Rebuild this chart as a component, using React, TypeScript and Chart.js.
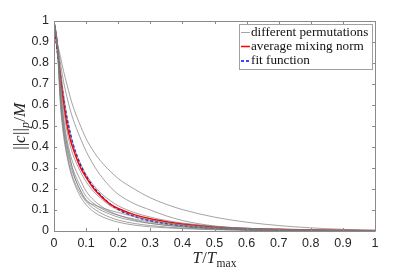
import React, { useEffect, useRef } from "react";
import { Chart, registerables } from "chart.js";

Chart.register(...registerables);

// Sample positions T/Tmax
const T_GRID = [0, 0.01, 0.02, 0.03, 0.04, 0.05, 0.06, 0.08, 0.1, 0.125, 0.15, 0.175, 0.2, 0.25, 0.3, 0.35, 0.4, 0.5, 0.6, 0.7, 0.8, 0.9, 1.0];

// Different permutations (gray)
const PERM_1 = [1, 0.9, 0.83, 0.76, 0.7, 0.64, 0.59, 0.51, 0.44, 0.375, 0.325, 0.285, 0.25, 0.2, 0.158, 0.127, 0.102, 0.066, 0.042, 0.026, 0.015, 0.008, 0.003];
const PERM_2 = [1, 0.9, 0.8, 0.71, 0.64, 0.58, 0.53, 0.45, 0.38, 0.31, 0.255, 0.21, 0.175, 0.13, 0.1, 0.072, 0.05, 0.024, 0.013, 0.008, 0.005, 0.003, 0.002];
const PERM_3 = [1, 0.9, 0.77, 0.65, 0.55, 0.47, 0.41, 0.33, 0.27, 0.215, 0.175, 0.145, 0.12, 0.088, 0.066, 0.05, 0.038, 0.022, 0.013, 0.008, 0.005, 0.003, 0.002];
const PERM_4 = [1, 0.88, 0.72, 0.58, 0.48, 0.41, 0.36, 0.29, 0.235, 0.185, 0.15, 0.12, 0.1, 0.072, 0.052, 0.04, 0.03, 0.017, 0.01, 0.006, 0.004, 0.002, 0.001];
const PERM_5 = [1, 0.9, 0.66, 0.5, 0.41, 0.34, 0.29, 0.22, 0.165, 0.13, 0.105, 0.088, 0.075, 0.057, 0.043, 0.033, 0.025, 0.014, 0.008, 0.005, 0.003, 0.002, 0.001];
const PERM_6 = [1, 0.9, 0.64, 0.48, 0.39, 0.32, 0.27, 0.2, 0.15, 0.118, 0.096, 0.08, 0.066, 0.048, 0.036, 0.027, 0.02, 0.011, 0.006, 0.004, 0.002, 0.001, 0.001];
const PERM_7 = [1, 0.88, 0.62, 0.47, 0.37, 0.3, 0.25, 0.185, 0.14, 0.105, 0.082, 0.065, 0.052, 0.036, 0.026, 0.019, 0.014, 0.008, 0.004, 0.003, 0.002, 0.001, 0.001];
const PERM_8 = [1, 0.88, 0.6, 0.45, 0.36, 0.29, 0.24, 0.17, 0.125, 0.09, 0.068, 0.053, 0.042, 0.028, 0.02, 0.015, 0.011, 0.006, 0.003, 0.002, 0.001, 0.001, 0.0005];
const PERM_9 = [1, 0.9, 0.68, 0.52, 0.42, 0.35, 0.28, 0.2, 0.145, 0.125, 0.11, 0.098, 0.088, 0.068, 0.05, 0.037, 0.027, 0.015, 0.009, 0.005, 0.003, 0.002, 0.001];
const PERM_10 = [1, 0.89, 0.7, 0.54, 0.44, 0.37, 0.32, 0.25, 0.19, 0.145, 0.115, 0.092, 0.076, 0.052, 0.037, 0.027, 0.02, 0.011, 0.006, 0.003, 0.002, 0.001, 0.001];

const PERMUTATIONS = [PERM_1, PERM_2, PERM_3, PERM_4, PERM_5, PERM_6, PERM_7, PERM_8, PERM_9, PERM_10];

// Average mixing norm (red)
const AVERAGE = [1, 0.87, 0.74, 0.61, 0.51, 0.44, 0.39, 0.31, 0.255, 0.2, 0.16, 0.128, 0.107, 0.078, 0.058, 0.044, 0.033, 0.019, 0.012, 0.008, 0.005, 0.003, 0.002];
// Fit function (blue dashed)
const FIT = [1, 0.86, 0.74, 0.63, 0.54, 0.47, 0.41, 0.325, 0.262, 0.205, 0.163, 0.128, 0.103, 0.07, 0.049, 0.035, 0.025, 0.013, 0.007, 0.004, 0.002, 0.001, 0.001];

const X_TICK_LABELS = ["0", "0.1", "0.2", "0.3", "0.4", "0.5", "0.6", "0.7", "0.8", "0.9", "1"];
const Y_TICK_LABELS = ["0", "0.1", "0.2", "0.3", "0.4", "0.5", "0.6", "0.7", "0.8", "0.9", "1"];
const TICK_VALUES = [0, 0.1, 0.2, 0.3, 0.4, 0.5, 0.6, 0.7, 0.8, 0.9, 1];

const LEGEND_LABELS = ["different permutations", "average mixing norm", "fit function"];

const GRAY = "rgba(120,120,120,0.85)";
const RED = "#ff0000";
const BLUE = "#0000ff";
const AXIS = "#8a8a8a";
const TEXT = "#262626";

const toPoints = (vals: number[]) => T_GRID.map((x, i) => ({ x, y: vals[i] }));

type Seg = { t: string; italic?: boolean; sub?: boolean };

function drawMath(ctx: CanvasRenderingContext2D, segs: Seg[], size: number, cx: number, cy: number, rotate: boolean) {
  const fam = "'Liberation Serif', 'DejaVu Serif', serif";
  const fontFor = (s: Seg) => `${s.italic ? "italic " : ""}${s.sub ? size * 0.7 : size}px ${fam}`;
  let total = 0;
  const widths = segs.map((s) => {
    ctx.font = fontFor(s);
    const w = ctx.measureText(s.t).width;
    total += w + (s.italic ? 0.5 : 0);
    return w;
  });
  ctx.save();
  ctx.translate(cx, cy);
  if (rotate) ctx.rotate(-Math.PI / 2);
  ctx.fillStyle = TEXT;
  ctx.textBaseline = "alphabetic";
  ctx.textAlign = "left";
  let x = -total / 2;
  const base = size * 0.35;
  segs.forEach((s, i) => {
    ctx.font = fontFor(s);
    ctx.fillText(s.t, x, base + (s.sub ? size * 0.25 : 0));
    x += widths[i] + (s.italic ? 0.5 : 0);
  });
  ctx.restore();
}

const framePlugin = {
  id: "frame",
  afterDatasetsDraw(chart: any) {
    const { ctx, chartArea } = chart;
    const { left, right, top, bottom } = chartArea;
    const xs = chart.scales.x;
    const ys = chart.scales.y;
    ctx.save();
    ctx.strokeStyle = AXIS;
    ctx.lineWidth = 1;
    ctx.beginPath();
    ctx.rect(Math.round(left) + 0.5, Math.round(top) + 0.5, Math.round(right - left), Math.round(bottom - top));
    ctx.stroke();
    const tl = 3;
    ctx.beginPath();
    TICK_VALUES.forEach((v) => {
      const px = Math.round(xs.getPixelForValue(v)) + 0.5;
      ctx.moveTo(px, bottom);
      ctx.lineTo(px, bottom - tl);
      ctx.moveTo(px, top);
      ctx.lineTo(px, top + tl);
      const py = Math.round(ys.getPixelForValue(v)) + 0.5;
      ctx.moveTo(left, py);
      ctx.lineTo(left + tl, py);
      ctx.moveTo(right, py);
      ctx.lineTo(right - tl, py);
    });
    ctx.stroke();
    ctx.restore();

    // Axis titles
    drawMath(ctx, [
      { t: "T", italic: true },
      { t: "/" },
      { t: "T", italic: true },
      { t: "max", sub: true },
    ], 16.5, (left + right) / 2, 257, false);
    drawMath(ctx, [
      { t: "||" },
      { t: "c", italic: true },
      { t: "||" },
      { t: "p", italic: true, sub: true },
      { t: "/" },
      { t: "M", italic: true },
    ], 17, 19, (top + bottom) / 2, true);

    // Legend
    const lx = 239.5, ly = 24.5, lw = 133, lh = 45;
    ctx.save();
    ctx.fillStyle = "#ffffff";
    ctx.fillRect(lx, ly, lw, lh);
    ctx.strokeStyle = "#a0a0a0";
    ctx.lineWidth = 1;
    ctx.strokeRect(lx, ly, lw, lh);
    const rows = [32.5, 46.5, 61];
    const styles = [
      { c: GRAY, w: 0.8, d: [] as number[] },
      { c: RED, w: 1.5, d: [] as number[] },
      { c: BLUE, w: 1.5, d: [3, 2] },
    ];
    rows.forEach((ry, i) => {
      ctx.strokeStyle = styles[i].c;
      ctx.lineWidth = styles[i].w;
      ctx.setLineDash(styles[i].d);
      ctx.beginPath();
      ctx.moveTo(241, ry);
      ctx.lineTo(250, ry);
      ctx.stroke();
      ctx.setLineDash([]);
      ctx.fillStyle = "#111";
      ctx.font = "13.2px 'Liberation Serif', serif";
      ctx.textBaseline = "middle";
      ctx.textAlign = "left";
      ctx.fillText(LEGEND_LABELS[i], 251, ry);
    });
    ctx.restore();
  },
};

export default function App() {
  const ref = useRef<HTMLCanvasElement | null>(null);
  useEffect(() => {
    if (!ref.current) return;
    const datasets: any[] = PERMUTATIONS.map((p, i) => ({
      label: i === 0 ? LEGEND_LABELS[0] : "",
      data: toPoints(p),
      borderColor: GRAY,
      borderWidth: 0.8,
      pointRadius: 0,
      cubicInterpolationMode: "monotone",
      fill: false,
    }));
    datasets.push({
      label: LEGEND_LABELS[1],
      data: toPoints(AVERAGE),
      borderColor: RED,
      borderWidth: 1.5,
      pointRadius: 0,
      cubicInterpolationMode: "monotone",
      fill: false,
    });
    datasets.push({
      label: LEGEND_LABELS[2],
      data: toPoints(FIT),
      borderColor: BLUE,
      borderWidth: 1.5,
      borderDash: [3, 2],
      pointRadius: 0,
      cubicInterpolationMode: "monotone",
      fill: false,
    });
    const tickFont = { family: "'Liberation Sans', Arial, sans-serif", size: 12.5 };
    const chart = new Chart(ref.current, {
      type: "line",
      data: { datasets },
      plugins: [framePlugin],
      options: {
        animation: false,
        responsive: false,
        devicePixelRatio: 1,
        layout: { padding: { top: 21, right: 40, left: 0, bottom: 0 } },
        plugins: { legend: { display: false }, tooltip: { enabled: false } },
        scales: {
          x: {
            type: "linear",
            min: 0,
            max: 1,
            afterBuildTicks: (s: any) => { s.ticks = TICK_VALUES.map((v) => ({ value: v })); },
            afterFit: (s: any) => { s.height = 39; },
            ticks: {
              callback: (_v: any, i: number) => X_TICK_LABELS[i],
              color: TEXT,
              font: tickFont,
              padding: 5,
              maxRotation: 0,
              autoSkip: false,
            },
            grid: { display: false, drawTicks: false },
            border: { display: false },
          },
          y: {
            type: "linear",
            min: 0,
            max: 1,
            afterBuildTicks: (s: any) => { s.ticks = TICK_VALUES.map((v) => ({ value: v })); },
            afterFit: (s: any) => { s.width = 54; },
            ticks: {
              callback: (_v: any, i: number) => Y_TICK_LABELS[i],
              color: TEXT,
              font: tickFont,
              padding: 5,
              autoSkip: false,
            },
            grid: { display: false, drawTicks: false },
            border: { display: false },
          },
        },
      } as any,
    });
    return () => chart.destroy();
  }, []);
  return (
    <div style={{ position: "fixed", left: 0, top: 0, width: 415, height: 270, background: "#fff" }}>
      <canvas ref={ref} width={415} height={270} style={{ width: 415, height: 270, display: "block" }} />
    </div>
  );
}
